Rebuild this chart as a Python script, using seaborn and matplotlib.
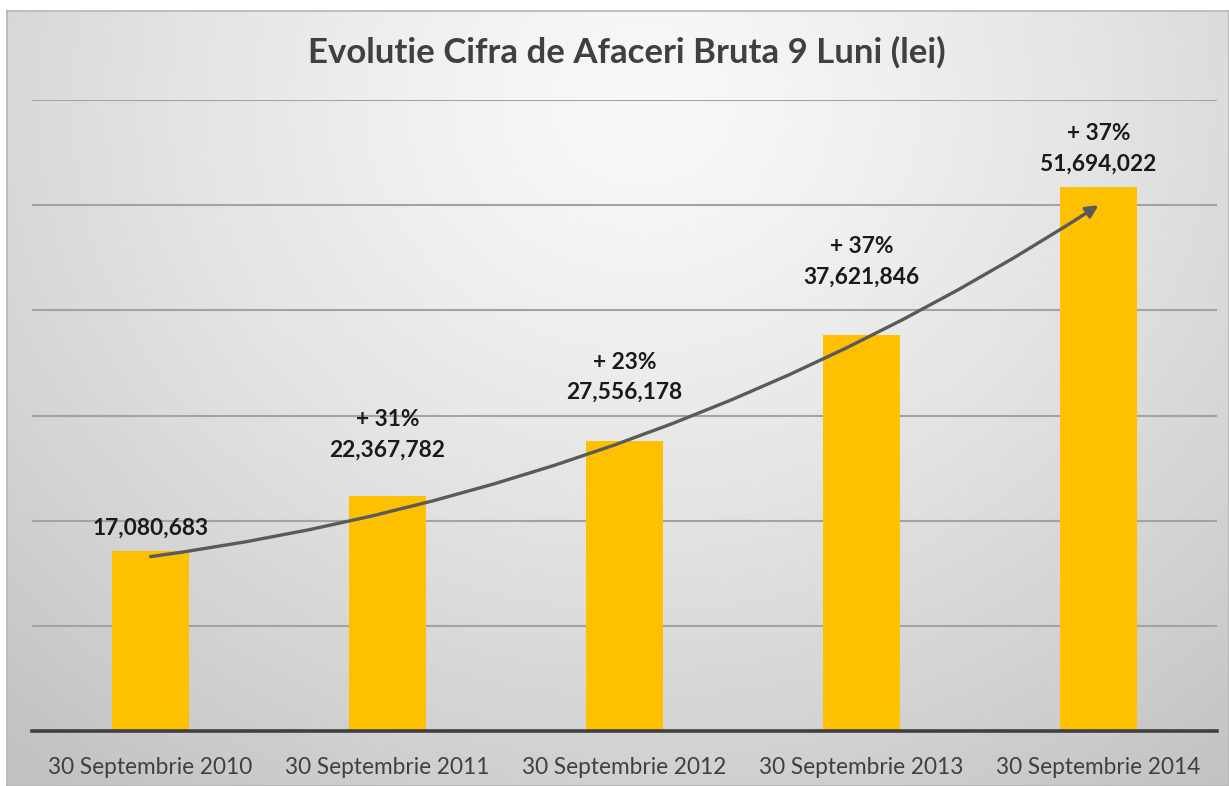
import numpy as np
import pandas as pd
import matplotlib
matplotlib.use("Agg")
import matplotlib.pyplot as plt
import seaborn as sns

# ---- data ----
categories = ["30 Septembrie 2010", "30 Septembrie 2011", "30 Septembrie 2012",
              "30 Septembrie 2013", "30 Septembrie 2014"]
values = [17080683, 22367782, 27556178, 37621846, 51694022]
growth_labels = ["", "+ 31%", "+ 23%", "+ 37%", "+ 37%"]
title = "Evolutie Cifra de Afaceri Bruta 9 Luni (lei)"

# ---- style ----
sns.set_theme(style="white")
plt.rcParams['font.family'] = ['Lato', 'DejaVu Sans']

W, H = 1229, 786
fig = plt.figure(figsize=(W / 100, H / 100), dpi=100)
fig.patch.set_facecolor("white")

# background gradient panel
bg = fig.add_axes([7 / W, 0, 1 - 7 / W, (H - 11) / H])
bw, bh = 600, 400
xx, yy = np.meshgrid(np.linspace(0, 1, bw), np.linspace(0, 1, bh))
cx, cy = 0.52, 0.12
d = np.sqrt(((xx - cx) / 0.75) ** 2 + ((yy - cy) / 1.05) ** 2)
g = np.clip(0.975 - 0.20 * d ** 1.3, 0.76, 0.98)
bg.imshow(np.dstack([g, g, g]), aspect="auto", extent=[0, 1, 1, 0])
bg.set_xlim(0, 1)
bg.set_ylim(1, 0)
bg.set_xticks([])
bg.set_yticks([])
for s in bg.spines.values():
    s.set_color("#b5b5b5")
    s.set_linewidth(1.2)

# main axes
ax = fig.add_axes([32 / W, (H - 731) / H, 1185 / W, 631 / H])
ax.patch.set_alpha(0)
df = pd.DataFrame({"cat": categories, "val": values})
sns.barplot(data=df, x="cat", y="val", color="#FFC000", width=0.325,
            saturation=1, linewidth=0, edgecolor="none", ax=ax, zorder=3)
ax.set_ylim(0, 60_000_000)
ax.set_xlim(-0.5, len(categories) - 0.5)
ax.set_yticks(np.arange(0, 60_000_001, 10_000_000))
ax.yaxis.grid(True, color="#a3a3a3", linewidth=1.5, zorder=0)
ax.set_axisbelow(True)
ax.tick_params(axis="y", left=False, labelleft=False)
ax.tick_params(axis="x", bottom=False, pad=13, labelsize=16.3, labelcolor="#404040")
ax.set_xlabel("")
ax.set_ylabel("")
for s in ["left", "right", "top"]:
    ax.spines[s].set_visible(False)
ax.spines["bottom"].set_color("#404040")
ax.spines["bottom"].set_linewidth(2.6)
ax.spines["bottom"].set_zorder(4)

# labels
value_offsets = [17, 33, 35, 42, 17]  # points above bar top
for i, (v, gl, off) in enumerate(zip(values, growth_labels, value_offsets)):
    ax.annotate(f"{v:,}", xy=(i, v), xytext=(0, off), textcoords="offset points",
                ha="center", va="center", fontsize=16.4, fontweight="bold",
                color="#1a1a1a", zorder=6)
    if gl:
        ax.annotate(gl, xy=(i, v), xytext=(0, off + 22), textcoords="offset points",
                    ha="center", va="center", fontsize=16.4, fontweight="bold",
                    color="#1a1a1a", zorder=6)

# trend arrow
start_y = values[0] - 500_000
end_y = values[-1] - 1_700_000
ax.annotate("", xy=(len(values) - 1, end_y), xytext=(0, start_y),
            arrowprops=dict(arrowstyle="-|>,head_length=0.6,head_width=0.3",
                            color="#5a5a5a", lw=2.4,
                            connectionstyle="arc3,rad=0.112",
                            shrinkA=0, shrinkB=0),
            zorder=5)

fig.text(627 / W, 1 - 52 / H, title, ha="center", va="center",
         fontsize=25, fontweight="bold", color="#404040")

fig.savefig("out.png", dpi=100)
